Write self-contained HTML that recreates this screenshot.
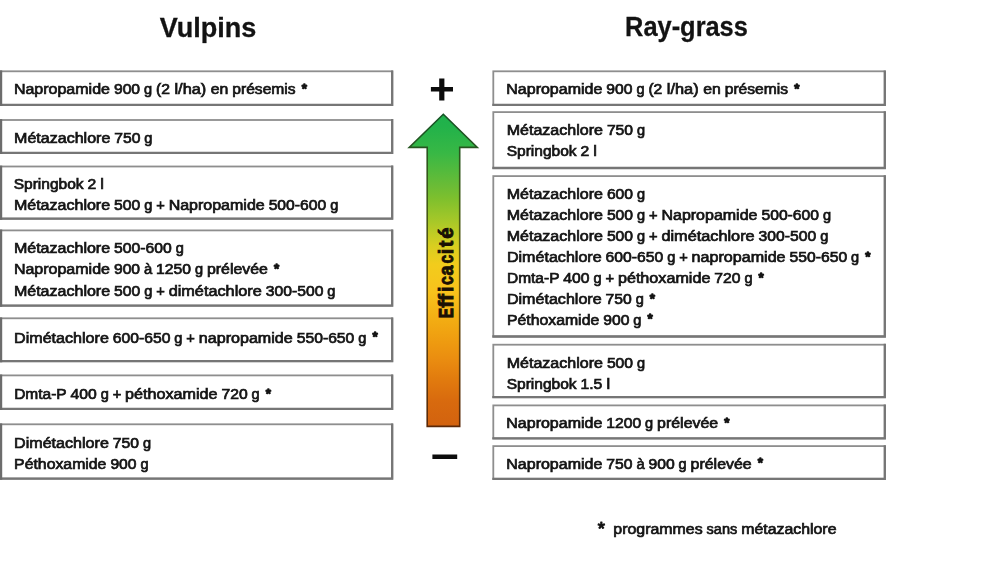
<!DOCTYPE html>
<html lang="fr"><head><meta charset="utf-8"><title>Efficacité</title>
<style>
html,body{margin:0;padding:0;background:#fff;}
body{width:1000px;height:562px;overflow:hidden;font-family:"Liberation Sans",sans-serif;}
svg{display:block;filter:blur(.4px);}
text{font-family:"Liberation Sans",sans-serif;}
.t{font-size:15.0px;fill:#141414;stroke:#141414;stroke-width:.72px;paint-order:stroke;}
.a{font-size:13.4px;fill:#141414;stroke:#141414;stroke-width:1.5px;stroke-linejoin:round;}
.h{font-weight:bold;fill:#131313;stroke:#131313;stroke-width:.3px;}
.bx{fill:#fff;stroke:#8e8e8e;stroke-width:1.8;}
.br{fill:none;stroke:#767676;stroke-width:2.3;stroke-linejoin:miter;}
.sh{fill:none;stroke:#c4c4c4;stroke-width:1.4;}
</style></head><body>
<svg width="1000" height="562" viewBox="0 0 1000 562">
<defs>
<linearGradient id="g" x1="0" y1="114" x2="0" y2="427" gradientUnits="userSpaceOnUse">
<stop offset="0" stop-color="#1eb14c"/>
<stop offset=".04" stop-color="#22b24a"/>
<stop offset=".125" stop-color="#38b845"/>
<stop offset=".233" stop-color="#6cbc35"/>
<stop offset=".272" stop-color="#7fc02d"/>
<stop offset=".345" stop-color="#a8c828"/>
<stop offset=".42" stop-color="#d8ce20"/>
<stop offset=".48" stop-color="#f2cc1c"/>
<stop offset=".569" stop-color="#f8c21c"/>
<stop offset=".668" stop-color="#f2aa12"/>
<stop offset=".732" stop-color="#ee9a10"/>
<stop offset=".786" stop-color="#ea8c10"/>
<stop offset=".843" stop-color="#e27c0e"/>
<stop offset=".917" stop-color="#d86a0e"/>
<stop offset="1" stop-color="#d2620f"/>
</linearGradient>
<linearGradient id="gs" x1="0" y1="114" x2="0" y2="427" gradientUnits="userSpaceOnUse">
<stop offset="0" stop-color="#155226"/>
<stop offset=".3" stop-color="#445c14"/>
<stop offset=".55" stop-color="#66500c"/>
<stop offset="1" stop-color="#5a2808"/>
</linearGradient>
</defs>
<rect width="1000" height="562" fill="#fff"/>

<rect class="bx" x="0.85" y="71.30" width="391.35" height="33.60"/>
<path class="br" d="M-0.15 104.90H392.20V70.40"/>
<rect class="bx" x="0.85" y="120.00" width="391.35" height="32.90"/>
<path class="br" d="M-0.15 152.90H392.20V119.10"/>
<rect class="bx" x="0.85" y="166.50" width="391.35" height="52.20"/>
<path class="br" d="M-0.15 218.70H392.20V165.60"/>
<rect class="bx" x="0.85" y="230.40" width="391.35" height="75.20"/>
<path class="br" d="M-0.15 305.60H392.20V229.50"/>
<rect class="bx" x="0.85" y="318.30" width="391.35" height="42.90"/>
<path class="br" d="M-0.15 361.20H392.20V317.40"/>
<rect class="bx" x="0.85" y="375.40" width="391.35" height="33.50"/>
<path class="br" d="M-0.15 408.90H392.20V374.50"/>
<rect class="bx" x="0.85" y="424.30" width="391.35" height="54.30"/>
<path class="br" d="M-0.15 478.60H392.20V423.40"/>
<path d="M0.9 70.40V106.00" stroke="#6c6c6c" stroke-width="2.6" fill="none"/>
<path d="M0.9 119.10V154.00" stroke="#6c6c6c" stroke-width="2.6" fill="none"/>
<path d="M0.9 165.60V219.80" stroke="#6c6c6c" stroke-width="2.6" fill="none"/>
<path d="M0.9 229.50V306.70" stroke="#6c6c6c" stroke-width="2.6" fill="none"/>
<path d="M0.9 317.40V362.30" stroke="#6c6c6c" stroke-width="2.6" fill="none"/>
<path d="M0.9 374.50V410.00" stroke="#6c6c6c" stroke-width="2.6" fill="none"/>
<path d="M0.9 423.40V479.70" stroke="#6c6c6c" stroke-width="2.6" fill="none"/>
<rect class="bx" x="493.30" y="71.30" width="391.50" height="33.60"/>
<path class="br" d="M492.30 104.90H884.80V70.40"/>
<rect class="bx" x="493.30" y="112.10" width="391.50" height="55.90"/>
<path class="br" d="M492.30 168.00H884.80V111.20"/>
<rect class="bx" x="493.30" y="176.10" width="391.50" height="160.40"/>
<path class="br" d="M492.30 336.50H884.80V175.20"/>
<rect class="bx" x="493.30" y="344.70" width="391.50" height="52.50"/>
<path class="br" d="M492.30 397.20H884.80V343.80"/>
<rect class="bx" x="493.30" y="405.40" width="391.50" height="33.00"/>
<path class="br" d="M492.30 438.40H884.80V404.50"/>
<rect class="bx" x="493.30" y="446.10" width="391.50" height="32.70"/>
<path class="br" d="M492.30 478.80H884.80V445.20"/>
<g opacity="0.999">
<text class="t" transform="translate(13.90 94.30) scale(1.0672 1)">Napropamide</text>
<text class="t" transform="translate(113.90 94.30) scale(1.0465 1)">900</text>
<text class="t" transform="translate(143.98 94.30) scale(0.9722 1)">g</text>
<text class="t" transform="translate(155.98 94.30) scale(1.0458 1)">(2</text>
<text class="t" transform="translate(174.47 94.30) scale(1.0900 1)">l/ha)</text>
<text class="t" transform="translate(210.81 94.30) scale(1.0558 1)">en</text>
<text class="t" transform="translate(232.32 94.30) scale(1.0414 1)">présemis</text>
<text class="a" x="301.75" y="92.91">*</text>
<text class="t" transform="translate(14.10 142.70) scale(1.0694 1)">Métazachlore</text>
<text class="t" transform="translate(114.28 142.70) scale(1.0465 1)">750</text>
<text class="t" transform="translate(144.37 142.70) scale(0.9722 1)">g</text>
<text class="t" transform="translate(13.66 189.10) scale(1.0364 1)">Springbok</text>
<text class="t" transform="translate(87.56 189.10) scale(1.0465 1)">2</text>
<text class="t" transform="translate(100.33 189.10) scale(1.0900 1)">l</text>
<text class="t" transform="translate(13.90 210.00) scale(1.0694 1)">Métazachlore</text>
<text class="t" transform="translate(114.08 210.00) scale(1.0465 1)">500</text>
<text class="t" transform="translate(144.17 210.00) scale(0.9722 1)">g</text>
<text class="t" transform="translate(156.17 210.00) scale(0.9790 1)">+</text>
<text class="t" transform="translate(168.64 210.00) scale(1.0672 1)">Napropamide</text>
<text class="t" transform="translate(268.63 210.00) scale(1.0473 1)">500-600</text>
<text class="t" transform="translate(330.18 210.00) scale(0.9722 1)">g</text>
<text class="t" transform="translate(13.90 253.30) scale(1.0694 1)">Métazachlore</text>
<text class="t" transform="translate(114.08 253.30) scale(1.0473 1)">500-600</text>
<text class="t" transform="translate(175.63 253.30) scale(0.9722 1)">g</text>
<text class="t" transform="translate(13.90 274.40) scale(1.0672 1)">Napropamide</text>
<text class="t" transform="translate(113.90 274.40) scale(1.0465 1)">900</text>
<text class="t" transform="translate(143.98 274.40) scale(0.9887 1)">à</text>
<text class="t" transform="translate(156.12 274.40) scale(1.0465 1)">1250</text>
<text class="t" transform="translate(194.93 274.40) scale(0.9722 1)">g</text>
<text class="t" transform="translate(206.94 274.40) scale(1.0615 1)">prélevée</text>
<text class="a" x="274.08" y="273.01">*</text>
<text class="t" transform="translate(13.90 295.50) scale(1.0694 1)">Métazachlore</text>
<text class="t" transform="translate(114.08 295.50) scale(1.0465 1)">500</text>
<text class="t" transform="translate(144.17 295.50) scale(0.9722 1)">g</text>
<text class="t" transform="translate(156.17 295.50) scale(0.9790 1)">+</text>
<text class="t" transform="translate(168.64 295.50) scale(1.0860 1)">dimétachlore</text>
<text class="t" transform="translate(265.79 295.50) scale(1.0473 1)">300-500</text>
<text class="t" transform="translate(327.34 295.50) scale(0.9722 1)">g</text>
<text class="t" transform="translate(14.09 342.70) scale(1.0730 1)">Dimétachlore</text>
<text class="t" transform="translate(112.80 342.70) scale(1.0473 1)">600-650</text>
<text class="t" transform="translate(174.34 342.70) scale(0.9722 1)">g</text>
<text class="t" transform="translate(186.34 342.70) scale(0.9790 1)">+</text>
<text class="t" transform="translate(198.81 342.70) scale(1.0738 1)">napropamide</text>
<text class="t" transform="translate(296.72 342.70) scale(1.0473 1)">550-650</text>
<text class="t" transform="translate(358.27 342.70) scale(0.9722 1)">g</text>
<text class="a" x="372.45" y="341.31">*</text>
<text class="t" transform="translate(14.14 399.30) scale(1.0335 1)">Dmta-P</text>
<text class="t" transform="translate(70.57 399.30) scale(1.0465 1)">400</text>
<text class="t" transform="translate(100.65 399.30) scale(0.9722 1)">g</text>
<text class="t" transform="translate(112.65 399.30) scale(0.9790 1)">+</text>
<text class="t" transform="translate(125.12 399.30) scale(1.0772 1)">péthoxamide</text>
<text class="t" transform="translate(221.54 399.30) scale(1.0465 1)">720</text>
<text class="t" transform="translate(251.62 399.30) scale(0.9722 1)">g</text>
<text class="a" x="265.80" y="397.91">*</text>
<text class="t" transform="translate(14.09 448.20) scale(1.0730 1)">Dimétachlore</text>
<text class="t" transform="translate(112.80 448.20) scale(1.0465 1)">750</text>
<text class="t" transform="translate(142.88 448.20) scale(0.9722 1)">g</text>
<text class="t" transform="translate(14.11 468.60) scale(1.0552 1)">Péthoxamide</text>
<text class="t" transform="translate(110.39 468.60) scale(1.0465 1)">900</text>
<text class="t" transform="translate(140.47 468.60) scale(0.9722 1)">g</text>
<text class="t" transform="translate(506.30 94.20) scale(1.0672 1)">Napropamide</text>
<text class="t" transform="translate(606.30 94.20) scale(1.0465 1)">900</text>
<text class="t" transform="translate(636.38 94.20) scale(0.9722 1)">g</text>
<text class="t" transform="translate(648.38 94.20) scale(1.0458 1)">(2</text>
<text class="t" transform="translate(666.87 94.20) scale(1.0900 1)">l/ha)</text>
<text class="t" transform="translate(703.21 94.20) scale(1.0558 1)">en</text>
<text class="t" transform="translate(724.72 94.20) scale(1.0414 1)">présemis</text>
<text class="a" x="794.15" y="92.81">*</text>
<text class="t" transform="translate(506.70 134.70) scale(1.0694 1)">Métazachlore</text>
<text class="t" transform="translate(606.88 134.70) scale(1.0465 1)">750</text>
<text class="t" transform="translate(636.97 134.70) scale(0.9722 1)">g</text>
<text class="t" transform="translate(506.66 155.80) scale(1.0364 1)">Springbok</text>
<text class="t" transform="translate(580.56 155.80) scale(1.0465 1)">2</text>
<text class="t" transform="translate(593.33 155.80) scale(1.0900 1)">l</text>
<text class="t" transform="translate(506.70 199.30) scale(1.0694 1)">Métazachlore</text>
<text class="t" transform="translate(606.88 199.30) scale(1.0465 1)">600</text>
<text class="t" transform="translate(636.97 199.30) scale(0.9722 1)">g</text>
<text class="t" transform="translate(506.70 220.23) scale(1.0694 1)">Métazachlore</text>
<text class="t" transform="translate(606.88 220.23) scale(1.0465 1)">500</text>
<text class="t" transform="translate(636.97 220.23) scale(0.9722 1)">g</text>
<text class="t" transform="translate(648.97 220.23) scale(0.9790 1)">+</text>
<text class="t" transform="translate(661.44 220.23) scale(1.0672 1)">Napropamide</text>
<text class="t" transform="translate(761.43 220.23) scale(1.0473 1)">500-600</text>
<text class="t" transform="translate(822.98 220.23) scale(0.9722 1)">g</text>
<text class="t" transform="translate(506.70 241.16) scale(1.0694 1)">Métazachlore</text>
<text class="t" transform="translate(606.88 241.16) scale(1.0465 1)">500</text>
<text class="t" transform="translate(636.97 241.16) scale(0.9722 1)">g</text>
<text class="t" transform="translate(648.97 241.16) scale(0.9790 1)">+</text>
<text class="t" transform="translate(661.44 241.16) scale(1.0860 1)">dimétachlore</text>
<text class="t" transform="translate(758.59 241.16) scale(1.0473 1)">300-500</text>
<text class="t" transform="translate(820.14 241.16) scale(0.9722 1)">g</text>
<text class="t" transform="translate(506.89 262.09) scale(1.0730 1)">Dimétachlore</text>
<text class="t" transform="translate(605.60 262.09) scale(1.0473 1)">600-650</text>
<text class="t" transform="translate(667.14 262.09) scale(0.9722 1)">g</text>
<text class="t" transform="translate(679.14 262.09) scale(0.9790 1)">+</text>
<text class="t" transform="translate(691.61 262.09) scale(1.0738 1)">napropamide</text>
<text class="t" transform="translate(789.52 262.09) scale(1.0473 1)">550-650</text>
<text class="t" transform="translate(851.07 262.09) scale(0.9722 1)">g</text>
<text class="a" x="865.25" y="260.70">*</text>
<text class="t" transform="translate(506.94 283.02) scale(1.0335 1)">Dmta-P</text>
<text class="t" transform="translate(563.37 283.02) scale(1.0465 1)">400</text>
<text class="t" transform="translate(593.45 283.02) scale(0.9722 1)">g</text>
<text class="t" transform="translate(605.45 283.02) scale(0.9790 1)">+</text>
<text class="t" transform="translate(617.92 283.02) scale(1.0772 1)">péthoxamide</text>
<text class="t" transform="translate(714.34 283.02) scale(1.0465 1)">720</text>
<text class="t" transform="translate(744.42 283.02) scale(0.9722 1)">g</text>
<text class="a" x="758.60" y="281.63">*</text>
<text class="t" transform="translate(506.89 303.95) scale(1.0730 1)">Dimétachlore</text>
<text class="t" transform="translate(605.60 303.95) scale(1.0465 1)">750</text>
<text class="t" transform="translate(635.68 303.95) scale(0.9722 1)">g</text>
<text class="a" x="649.86" y="302.56">*</text>
<text class="t" transform="translate(506.91 324.88) scale(1.0552 1)">Péthoxamide</text>
<text class="t" transform="translate(603.19 324.88) scale(1.0465 1)">900</text>
<text class="t" transform="translate(633.27 324.88) scale(0.9722 1)">g</text>
<text class="a" x="647.45" y="323.49">*</text>
<text class="t" transform="translate(506.70 367.70) scale(1.0694 1)">Métazachlore</text>
<text class="t" transform="translate(606.88 367.70) scale(1.0465 1)">500</text>
<text class="t" transform="translate(636.97 367.70) scale(0.9722 1)">g</text>
<text class="t" transform="translate(506.66 388.50) scale(1.0364 1)">Springbok</text>
<text class="t" transform="translate(580.56 388.50) scale(1.0455 1)">1.5</text>
<text class="t" transform="translate(606.40 388.50) scale(1.0900 1)">l</text>
<text class="t" transform="translate(506.30 428.30) scale(1.0672 1)">Napropamide</text>
<text class="t" transform="translate(606.30 428.30) scale(1.0465 1)">1200</text>
<text class="t" transform="translate(645.11 428.30) scale(0.9722 1)">g</text>
<text class="t" transform="translate(657.11 428.30) scale(1.0615 1)">prélevée</text>
<text class="a" x="724.26" y="426.91">*</text>
<text class="t" transform="translate(506.30 468.50) scale(1.0672 1)">Napropamide</text>
<text class="t" transform="translate(606.30 468.50) scale(1.0465 1)">750</text>
<text class="t" transform="translate(636.38 468.50) scale(0.9887 1)">à</text>
<text class="t" transform="translate(648.52 468.50) scale(1.0465 1)">900</text>
<text class="t" transform="translate(678.60 468.50) scale(0.9722 1)">g</text>
<text class="t" transform="translate(690.61 468.50) scale(1.0615 1)">prélevée</text>
<text class="a" x="757.75" y="467.11">*</text>
<text class="t" transform="translate(613.36 533.60) scale(1.0609 1)">programmes</text>
<text class="t" transform="translate(706.57 533.60) scale(0.9707 1)">sans</text>
<text class="t" transform="translate(741.21 533.60) scale(1.0587 1)">métazachlore</text>
<text class="h" font-size="27.8" transform="translate(159.70 36.60) scale(0.9732 1)">Vulpins</text>
<text class="h" font-size="27.8" transform="translate(625.11 36.20) scale(0.9135 1)">Ray-grass</text>
<text x="597.7" y="535.0" font-size="18.4" fill="#141414" stroke="#141414" stroke-width="1.1" stroke-linejoin="round">*</text>
</g>
<path d="M443.3 114.3 L477.3 147.4 L459.7 147.4 L459.7 426.4 L427.2 426.4 L427.2 147.4 L409.2 147.4 Z" fill="url(#g)" stroke="url(#gs)" stroke-width="1.6" stroke-linejoin="miter"/>
<g opacity="0.999" style="font-weight:bold;fill:#1a1004;stroke:#1a1004;stroke-width:0.7px" font-size="15.5">
<text transform="translate(452.6 318.32) rotate(-90) scale(1.0040 1.3548)">E</text>
<text transform="translate(452.6 307.65) rotate(-90) scale(1.3654 1.3548)">f</text>
<text transform="translate(452.6 300.95) rotate(-90) scale(1.3481 1.3548)">f</text>
<text transform="translate(452.6 292.07) rotate(-90) scale(1.2492 1.3548)">i</text>
<text transform="translate(452.6 284.94) rotate(-90) scale(1.0296 1.3548)">c</text>
<text transform="translate(452.6 275.38) rotate(-90) scale(1.1551 1.3548)">a</text>
<text transform="translate(452.6 263.54) rotate(-90) scale(1.0178 1.3548)">c</text>
<text transform="translate(452.6 254.17) rotate(-90) scale(1.2492 1.3548)">i</text>
<text transform="translate(452.6 247.07) rotate(-90) scale(1.2271 1.3548)">t</text>
<text transform="translate(452.6 238.67) rotate(-90) scale(1.3018 1.3548)">é</text>
</g>
<path d="M430.9 87.1H453V91.4H430.9ZM439.2 78.4H444.4V100.6H439.2Z" fill="#0c0c0c"/>
<rect x="432.4" y="454.5" width="24.8" height="4.5" fill="#0c0c0c"/>
</svg>
</body></html>
